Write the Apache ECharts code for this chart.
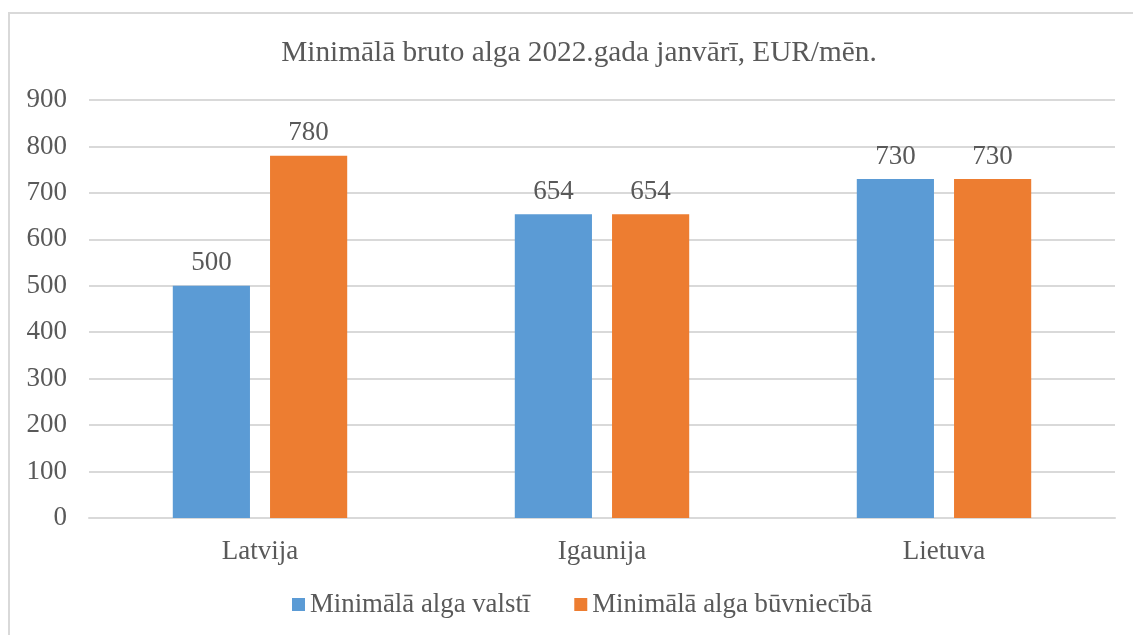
<!DOCTYPE html>
<html><head><meta charset="utf-8">
<script src="https://cdn.jsdelivr.net/npm/echarts@6/dist/echarts.min.js"></script>
<style>html,body{margin:0;padding:0;background:#fff}#c{width:1133px;height:635px}</style>
</head><body><div id="c"></div>
<script>
const title = 'Minimālā bruto alga 2022.gada janvārī, EUR/mēn.';
const categories = ['Latvija', 'Igaunija', 'Lietuva'];
const seriesNames = ['Minimālā alga valstī', 'Minimālā alga būvniecībā'];
const valsti = [500, 654, 730];
const buvnieciba = [780, 654, 730];
const yTicks = [0, 100, 200, 300, 400, 500, 600, 700, 800, 900];

const font = '"Liberation Serif", "Times New Roman", serif';
const txt = '#595959';
const chart = echarts.init(document.getElementById('c'));
chart.setOption({
  animation: false,
  title: {text: title, left: 574, textAlign: 'center', top: 34,
    textStyle: {fontFamily: font, fontSize: 29.3, fontWeight: 'normal', color: txt}},
  graphic: [{type: 'rect', shape: {x: 9, y: 13, width: 1140, height: 640},
    style: {fill: 'none', stroke: '#d9d9d9', lineWidth: 2}, silent: true}],
  grid: {left: 89, right: 18, top: 100, bottom: 117},
  legend: {top: 586, left: 287, itemWidth: 13, itemHeight: 13, itemGap: 44,
    icon: 'rect', textStyle: {fontFamily: font, fontSize: 26.8, color: txt},
    data: seriesNames},
  xAxis: {type: 'category', data: categories,
    axisLine: {lineStyle: {color: '#d9d9d9', width: 2}}, axisTick: {show: false},
    axisLabel: {fontFamily: font, fontSize: 27, color: txt, margin: 20}},
  yAxis: {type: 'value', min: yTicks[0], max: yTicks[yTicks.length-1], interval: 100,
    axisLine: {show: false}, axisTick: {show: false},
    splitLine: {lineStyle: {color: '#d9d9d9', width: 2}},
    axisLabel: {fontFamily: font, fontSize: 27, color: txt, margin: 22}},
  series: [
    {name: seriesNames[0], type: 'bar', data: valsti, barGap: '26%', barCategoryGap: '49%',
      itemStyle: {color: '#5B9BD5'},
      label: {show: true, position: 'top', distance: 9, fontFamily: font, fontSize: 27, color: txt}},
    {name: seriesNames[1], type: 'bar', data: buvnieciba,
      itemStyle: {color: '#ED7D31'},
      label: {show: true, position: 'top', distance: 9, fontFamily: font, fontSize: 27, color: txt}}
  ]
});
</script></body></html>
